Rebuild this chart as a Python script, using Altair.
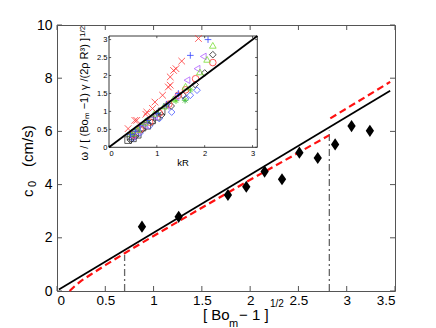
import altair as alt
import pandas as pd

W, H = 338, 266
FONT = "Liberation Sans"

# ---------------- main data ----------------
bo_x = [0.88, 1.26, 1.77, 1.96, 2.15, 2.33, 2.51, 2.70, 2.88, 3.05, 3.24]
c0 = [2.42, 2.79, 3.61, 3.92, 4.49, 4.20, 5.20, 5.00, 5.51, 6.20, 6.02]

fit_x = [0.02, 3.45]
fit_y = [0.06, 7.53]

red1_x = [0.13, 0.18, 0.25, 0.35, 0.50, 0.70, 1.00, 1.50, 2.00, 2.50, 2.82]
red1_y = [0.00, 0.17, 0.38, 0.62, 0.97, 1.42, 2.07, 3.13, 4.18, 5.20, 5.86]
red2_x = [2.83, 3.45]
red2_y = [6.49, 7.86]

vline_x = [0.70, 2.82]
vline_top = [1.35, 6.03]

x_ticks = [0, 0.5, 1, 1.5, 2, 2.5, 3, 3.5]
y_ticks = [0, 2, 4, 6, 8, 10]

# ---------------- inset data ----------------
in_x_ticks = [0, 1, 2, 3]
in_y_ticks = [0, 0.5, 1, 1.5, 2, 2.5, 3]
in_line_x = [0, 3.1]
in_line_y = [0, 3.1]

inset_series = {
    "bsq": ([0.40, 0.45, 0.50, 0.55, 0.60, 0.70, 0.80, 0.90, 1.00, 1.10],
            [0.20, 0.30, 0.25, 0.40, 0.35, 0.55, 0.60, 0.75, 0.85, 1.00]),
    "bdia": ([0.50, 0.65, 0.85, 1.05, 1.31, 1.60, 1.70, 1.84],
             [0.25, 0.40, 0.60, 0.80, 0.98, 1.35, 1.45, 1.59]),
    "gast": ([0.45, 0.60, 0.80, 1.00, 1.20, 1.40, 1.59, 1.70],
             [0.35, 0.50, 0.75, 0.95, 1.15, 1.30, 1.31, 1.60]),
    "kdia": ([0.45, 0.55, 0.70, 0.90, 1.10, 1.30, 1.55, 1.80, 2.00, 2.17],
             [0.20, 0.30, 0.50, 0.70, 0.90, 1.15, 1.45, 1.75, 2.07, 2.58]),
    "rcirc": ([0.50, 0.65, 0.85, 1.05, 1.25, 1.45, 1.60, 1.81, 2.17],
              [0.35, 0.50, 0.70, 0.95, 1.20, 1.45, 1.60, 1.91, 2.36]),
    "ptri": ([0.50, 0.60, 0.75, 0.95, 1.20, 1.40, 1.63, 1.84, 1.97],
             [0.30, 0.45, 0.60, 0.85, 1.15, 1.40, 1.87, 2.19, 2.53]),
    "gtri": ([0.50, 0.60, 0.75, 0.95, 1.15, 1.35, 1.60, 1.90, 2.05, 2.17],
             [0.40, 0.50, 0.70, 0.95, 1.15, 1.35, 1.70, 2.10, 2.45, 2.84]),
    "bplus": ([0.45, 0.55, 0.65, 0.80, 1.00, 1.20, 1.45, 1.70, 2.07],
              [0.35, 0.45, 0.60, 0.75, 0.95, 1.20, 1.50, 2.56, 3.00]),
    "rx": ([0.40, 0.54, 0.58, 0.77, 0.79, 0.91, 0.96, 1.12, 1.24, 1.28, 1.28, 1.35, 1.40, 1.52, 1.87],
           [0.52, 0.75, 0.75, 0.92, 0.98, 1.08, 1.26, 1.45, 1.68, 1.73, 1.96, 2.14, 2.19, 2.40, 3.03]),
}
series_order = ["bsq", "bdia", "gast", "kdia", "rcirc", "ptri", "gtri", "bplus", "rx"]
series_color = ["#333333", "#4455ff", "#44cc22", "#222222", "#ff3333",
                "#b060ff", "#77dd33", "#3344ff", "#ff3333"]
X_PATH = "M-1,-1L1,1M-1,1L1,-1"
PLUS_PATH = "M-1,0L1,0M0,-1L0,1"
AST_PATH = "M-1,0L1,0M0,-1L0,1M-0.7,-0.7L0.7,0.7M-0.7,0.7L0.7,-0.7"
series_shape = ["square", "diamond", AST_PATH, "diamond", "circle",
                "triangle-left", "triangle-up", PLUS_PATH, X_PATH]

# ---------------- frames ----------------
df_pts = pd.DataFrame({"x": bo_x, "y": c0})
df_fit = pd.DataFrame({"x": fit_x, "y": fit_y})
df_red = pd.DataFrame({
    "x": red1_x + red2_x,
    "y": red1_y + red2_y,
    "seg": ["a"] * len(red1_x) + ["b"] * len(red2_x),
})
df_vl = pd.DataFrame({"x": vline_x, "lo": [0] * len(vline_x), "hi": vline_top})
df_xt = pd.DataFrame({"v": x_ticks})
df_yt = pd.DataFrame({"v": y_ticks})

rows = []
for s in series_order:
    xs, ys = inset_series[s]
    for a, b in zip(xs, ys):
        rows.append({"s": s, "kR": a, "w": b})
df_in = pd.DataFrame(rows)
df_inline = pd.DataFrame({"kR": in_line_x, "w": in_line_y})

# ---------------- main scales / axes ----------------
xs_main = alt.Scale(domain=[0, 3.5], nice=False, zero=False)
ys_main = alt.Scale(domain=[0, 10], nice=False, zero=False)
ax_x = alt.Axis(values=x_ticks, format="~f", ticks=False, domain=False, grid=False,
                title=None, labelFontSize=13.5, labelPadding=2, labelColor="black",
                labelFont=FONT)
ax_y = alt.Axis(values=y_ticks, format="~f", ticks=False, domain=False, grid=False,
                title=None, labelFontSize=14, labelPadding=5, labelColor="black",
                labelFont=FONT)


def MX(f):
    return alt.X(f, scale=xs_main, axis=ax_x)


def MY(f):
    return alt.Y(f, scale=ys_main, axis=ax_y)


TK = 5
tick_col = "#555555"
main_layers = [
    alt.Chart(df_xt).mark_rule(color=tick_col, strokeWidth=1).encode(
        x=MX("v:Q"), y=alt.value(H), y2=alt.value(H - TK)),
    alt.Chart(df_xt).mark_rule(color=tick_col, strokeWidth=1).encode(
        x=MX("v:Q"), y=alt.value(0), y2=alt.value(TK)),
    alt.Chart(df_yt).mark_rule(color=tick_col, strokeWidth=1).encode(
        y=MY("v:Q"), x=alt.value(0), x2=alt.value(TK)),
    alt.Chart(df_yt).mark_rule(color=tick_col, strokeWidth=1).encode(
        y=MY("v:Q"), x=alt.value(W), x2=alt.value(W - TK)),
    alt.Chart(df_vl).mark_rule(color="#666666", strokeWidth=1.3,
                               strokeDash=[7, 3, 2, 3]).encode(
        x=MX("x:Q"), y=MY("lo:Q"), y2="hi:Q"),
    alt.Chart(df_fit).mark_line(color="black", strokeWidth=1.8).encode(
        x=MX("x:Q"), y=MY("y:Q")),
    alt.Chart(df_red).mark_line(color="#ff1111", strokeWidth=2.2,
                                strokeDash=[7, 4]).encode(
        x=MX("x:Q"), y=MY("y:Q"), detail="seg:N"),
    alt.Chart(df_pts).mark_point(shape="M0,-1.25L0.85,0L0,1.25L-0.85,0Z",
                                 filled=True, color="black", opacity=1,
                                 size=95).encode(
        x=MX("x:Q"), y=MY("y:Q")),
]


# titles (pieces for sub/superscripts)
def txt(t, x, y, size, angle=0, align="left"):
    return alt.Chart(pd.DataFrame({"t": [t]})).mark_text(
        font=FONT, fontSize=size, angle=angle, align=align, baseline="alphabetic",
        color="black").encode(x=alt.value(x), y=alt.value(y), text="t:N")


title_layers = [
    txt("[ Bo", 146, 295, 15),
    txt("m", 172, 301.5, 11),
    txt("\u2212 1 ]", 182, 295, 15),
    txt("1/2", 213, 282, 10),
    txt("c", -24, 172, 15, angle=270),
    txt("0", -21.5, 162, 11, angle=270),
    txt("(cm/s)", -24, 142, 15, angle=270),
    txt("kR", 126, 141, 9.5, align="center"),
    txt("\u03c9 / [ (Bo\u2098 \u22121) \u03b3 /(2\u03c1 R\u00b3) ]", 31, 13, 11,
        angle=270, align="right"),
    txt("1/2", 27.5, 12, 8, angle=270),
]

main = alt.layer(*main_layers, *title_layers)

# ---------------- inset ----------------
IN_L, IN_R, IN_T, IN_B = 52, 200.3, 11, 122.3
xs_in = alt.Scale(domain=[0, 3.1], range=[IN_L, IN_R], nice=False, zero=False)
ys_in = alt.Scale(domain=[0, 3.1], range=[IN_B, IN_T], nice=False, zero=False)
ax_xi = alt.Axis(orient="bottom", offset=-(H - IN_B), values=in_x_ticks, format="~f",
                 ticks=False, domain=False, grid=False, title=None, labelFontSize=7.5,
                 labelPadding=2, labelColor="black", labelFont=FONT)
ax_yi = alt.Axis(orient="left", offset=-IN_L, values=in_y_ticks, format="~f",
                 ticks=False, domain=False, grid=False, title=None, labelFontSize=7.5,
                 labelPadding=2, labelColor="black", labelFont=FONT)


def IX(f):
    return alt.X(f, scale=xs_in, axis=ax_xi)


def IY(f):
    return alt.Y(f, scale=ys_in, axis=ax_yi)


ITK_Y = 0.06   # tick length in y units
ITK_X = 0.045  # tick length in x units
irows = []
for v in in_x_ticks:
    irows.append({"x": v, "x2": v, "y": 0, "y2": ITK_Y})
    irows.append({"x": v, "x2": v, "y": 3.1, "y2": 3.1 - ITK_Y})
for v in in_y_ticks:
    irows.append({"x": 0, "x2": ITK_X, "y": v, "y2": v})
    irows.append({"x": 3.1, "x2": 3.1 - ITK_X, "y": v, "y2": v})
df_itk = pd.DataFrame(irows)
df_box = pd.DataFrame({"x": [0], "x2": [3.1], "y": [0], "y2": [3.1]})

inset = alt.layer(
    alt.Chart(df_box).mark_rect(fill="white", stroke="#222222", strokeWidth=0.9).encode(
        x=IX("x:Q"), x2="x2:Q", y=IY("y:Q"), y2="y2:Q"),
    alt.Chart(df_itk).mark_rule(color="#333333", strokeWidth=0.8).encode(
        x=IX("x:Q"), x2="x2:Q", y=IY("y:Q"), y2="y2:Q"),
    alt.Chart(df_in).mark_point(filled=False, strokeWidth=0.8, size=44, opacity=1).encode(
        x=IX("kR:Q"), y=IY("w:Q"),
        color=alt.Color("s:N", scale=alt.Scale(domain=series_order, range=series_color),
                        legend=None),
        shape=alt.Shape("s:N", scale=alt.Scale(domain=series_order, range=series_shape),
                        legend=None)),
    alt.Chart(df_inline).mark_line(color="black", strokeWidth=1.8).encode(
        x=IX("kR:Q"), y=IY("w:Q")),
)

chart = alt.layer(main, inset).resolve_scale(
    x="independent", y="independent", color="independent", shape="independent"
).properties(
    width=W, height=H,
    autosize=alt.AutoSizeParams(type="none"),
    padding={"left": 49, "top": 17, "right": 33, "bottom": 37},
).configure_view(stroke="#555555", strokeWidth=1)

chart.save("out.html", embed_options={"renderer": "svg", "actions": False})
